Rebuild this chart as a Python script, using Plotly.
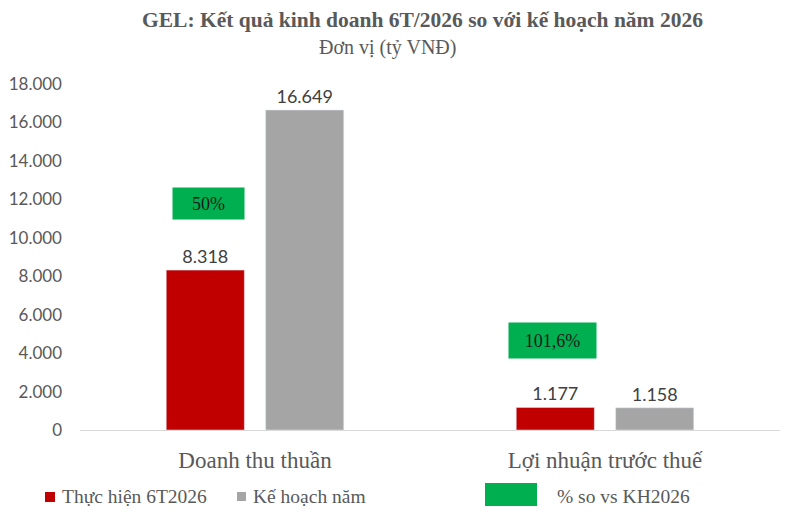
import plotly.graph_objects as go

# du lieu (ty VND)
categories = ["Doanh thu thuần", "Lợi nhuận trước thuế"]
thuc_hien = [8318, 1177]
ke_hoach = [16649, 1158]
y_ticks = [0, 2000, 4000, 6000, 8000, 10000, 12000, 14000, 16000, 18000]
series_names = ["Thực hiện 6T2026", "Kế hoạch năm"]
pct_label = "% so vs KH2026"

RED = "#C00000"
GRAY = "#A5A5A5"
GREEN = "#00B050"
TXT = "#595959"
SERIF = "Liberation Serif"
SANS = "Lato"

OFF = 8  # trang html co le 8px
W, H = 790 - OFF, 521 - OFF
L, R, T, B = 80 - OFF, 10, 84 - OFF, 91


def px(x, y):
    # toa do pixel trong anh -> paper
    x, y = x - OFF, y - OFF
    return (x - L) / (W - L - R), (H - B - y) / (H - T - B)


fig = go.Figure()
for name, vals, col in [(series_names[0], thuc_hien, RED), (series_names[1], ke_hoach, GRAY)]:
    fig.add_trace(go.Bar(x=categories, y=vals, name=name, marker_color=col,
                         texttemplate="%{y:,d}", textposition="outside",
                         textfont=dict(family=SANS, size=18, color="#404040"),
                         cliponaxis=False, showlegend=False))

# % thuc hien so voi ke hoach
box_w = [61, 77]
box_h = [21, 25]
box_dx = [-47, -53]
for i, cat in enumerate(categories):
    pct = round(thuc_hien[i] / ke_hoach[i] * 100, 1)
    s = f"{pct:.1f}".replace(".", ",")
    if s.endswith(",0"):
        s = s[:-2]
    fig.add_annotation(x=cat, y=thuc_hien[i], xref="x", yref="y", text=s + "%",
                       showarrow=False, xshift=box_dx[i], yshift=67, bgcolor=GREEN,
                       width=box_w[i], height=box_h[i], borderpad=5,
                       font=dict(family=SERIF, size=18, color="#1a1a1a"))

# chu thich (ve tay)
legend_items = [
    (45, 55, 492, 502, RED, 60, series_names[0]),
    (237, 246, 492, 501, GRAY, 251, series_names[1]),
    (485, 537, 483, 506, GREEN, 555, pct_label),
]
for x0, x1, y0, y1, col, tx, label in legend_items:
    a0, b0 = px(x0, y1)
    a1, b1 = px(x1, y0)
    fig.add_shape(type="rect", xref="paper", yref="paper", x0=a0, x1=a1,
                  y0=b0, y1=b1, fillcolor=col, line_width=0)
    ax, ay = px(tx, 496)
    fig.add_annotation(x=ax, y=ay, xref="paper", yref="paper", xanchor="left",
                       yanchor="middle", text=label, showarrow=False,
                       font=dict(family=SERIF, size=19.5, color=TXT))

# tieu de
tx, ty = px(422, 20)
fig.add_annotation(x=tx, y=ty, xref="paper", yref="paper", showarrow=False,
                   text="<b>GEL: Kết quả kinh doanh 6T/2026 so với kế hoạch năm 2026</b>",
                   font=dict(family=SERIF, size=21.5, color=TXT), yanchor="middle")
sx, sy = px(387, 47)
fig.add_annotation(x=sx, y=sy, xref="paper", yref="paper", showarrow=False,
                   text="Đơn vị (tỷ VNĐ)", yanchor="middle",
                   font=dict(family=SERIF, size=20, color=TXT))

fig.update_layout(
    width=W, height=H,
    margin=dict(l=L, r=R, t=T, b=B, autoexpand=False),
    paper_bgcolor="white", plot_bgcolor="white",
    separators=",.",
    barmode="group", bargap=0.432, bargroupgap=0.214,
    showlegend=False,
)
fig.update_xaxes(showgrid=False, showline=True, linecolor="#D9D9D9", linewidth=1,
                 ticks="", tickfont=dict(family=SERIF, size=23, color=TXT),
                 ticklabelstandoff=9, automargin=False)
fig.update_yaxes(range=[0, 18000], tickvals=y_ticks, tickformat=",d", showgrid=False,
                 zeroline=False, showline=False, ticks="",
                 tickfont=dict(family=SANS, size=17, color=TXT), ticklabelstandoff=17,
                 automargin=False)

fig.write_html("out.html")
